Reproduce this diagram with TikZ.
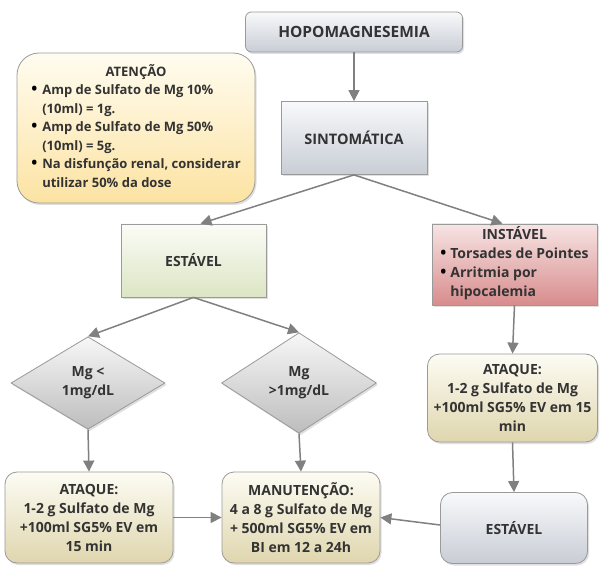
\documentclass[tikz,border=0pt]{standalone}
\usepackage{fontspec}
\setmainfont{Open Sans}
\usetikzlibrary{shapes.geometric,arrows.meta,shadows}

\definecolor{txt}{HTML}{333333}
\definecolor{edge}{HTML}{9A9A9A}
\definecolor{link}{HTML}{808080}
\definecolor{grayTop}{HTML}{F8F9FB}
\definecolor{grayBot}{HTML}{C8CDD5}
\definecolor{noteTop}{HTML}{FFFCF0}
\definecolor{noteBot}{HTML}{FCE3A2}
\definecolor{greenTop}{HTML}{FBFCF6}
\definecolor{greenBot}{HTML}{DCE5C4}
\definecolor{redTop}{HTML}{F7E4E4}
\definecolor{redBot}{HTML}{D88C8C}
\definecolor{beigeTop}{HTML}{FDFCF4}
\definecolor{beigeBot}{HTML}{DFD6AE}
\definecolor{diaTop}{HTML}{F7F7F7}
\definecolor{diaBot}{HTML}{BDBDBD}

% list bullet: a slightly larger black dot
\newcommand{\listdot}{\raisebox{0.2pt}{\color{black}\fontsize{16}{16}\selectfont\textbullet}}

\tikzset{
  box/.style={draw=edge, line width=0.8pt, text=txt, font=\bfseries\fontsize{14}{19}\selectfont,
    align=center, inner sep=2pt,
    drop shadow={shadow xshift=1.5pt, shadow yshift=-2pt, opacity=0.25}},
  graybox/.style={box, top color=grayTop, bottom color=grayBot},
  notebox/.style={box, top color=noteTop, bottom color=noteBot, rounded corners=22pt,
    font=\bfseries\fontsize{13}{18.5}\selectfont},
  greenbox/.style={box, top color=greenTop, bottom color=greenBot},
  redbox/.style={box, top color=redTop, bottom color=redBot},
  dosebox/.style={box, top color=beigeTop, bottom color=beigeBot, rounded corners=12pt},
  choice/.style={box, diamond, top color=diaTop, bottom color=diaBot,
    font=\bfseries\fontsize{14}{19}\selectfont},
  flow/.style={draw=link, line width=1.5pt, -{Triangle[length=11pt,width=11pt]}}
}

\begin{document}
\begin{tikzpicture}[x=1pt,y=-1pt]
\useasboundingbox (0,0) rectangle (603,567);

% top of the chart
\node[graybox, rounded corners=6pt, minimum width=217pt, minimum height=40pt,
      font=\bfseries\fontsize{15.5}{18}\selectfont] (hipo) at (354,32) {HOPOMAGNESEMIA};

\node[notebox, minimum width=238pt, minimum height=150pt] (aten) at (136,128)
  {\begin{tabular}{@{}l@{\hspace{5pt}}l@{}}
   \multicolumn{2}{c}{ATENÇÃO}\\
   \listdot & Amp de Sulfato de Mg 10\%\\
    & (10ml) = 1g.\\
   \listdot & Amp de Sulfato de Mg 50\%\\
    & (10ml) = 5g.\\
   \listdot & Na disfunção renal, considerar\\
    & utilizar 50\% da dose
   \end{tabular}};

\node[graybox, minimum width=146pt, minimum height=73pt,
      font=\bfseries\fontsize{14.5}{18}\selectfont] (sint) at (354,138) {SINTOMÁTICA};

% branches
\node[greenbox, minimum width=145pt, minimum height=73pt] (est) at (193.5,260.5) {ESTÁVEL};

\node[redbox, minimum width=165pt, minimum height=81pt]
  (inst) at (514.5,264.5)
  {\begin{tabular}{@{}l@{\hspace{4pt}}l@{}}
   \multicolumn{2}{c}{INSTÁVEL}\\
   \listdot & Torsades de Pointes\\
   \listdot & Arritmia por\\
    & hipocalemia
   \end{tabular}};

\node[choice, minimum width=154pt, minimum height=80pt] (low) at (88,383) {Mg <\\1mg/dL};
\node[choice, minimum width=155pt, minimum height=80pt] (high) at (299,383) {Mg\\>1mg/dL};

% treatment
\node[dosebox, minimum width=168pt, minimum height=91pt] (atq1) at (89,517.5)
  {ATAQUE:\\1-2 g Sulfato de Mg\\+100ml SG5\% EV em\\15 min};
\node[dosebox, minimum width=158pt, minimum height=91pt] (man) at (301,517.5)
  {MANUTENÇÃO:\\4 a 8 g Sulfato de Mg\\+ 500ml SG5\% EV em\\BI em 12 a 24h};
\node[dosebox, minimum width=170pt, minimum height=88pt] (atq2) at (512.5,398)
  {ATAQUE:\\1-2 g Sulfato de Mg\\+100ml SG5\% EV em 15\\min};
\node[graybox, rounded corners=12pt, minimum width=147pt, minimum height=71pt] (est2) at (514,528) {ESTÁVEL};

% connectors
\draw[flow] (hipo) -- (sint);
\draw[flow] (sint.south) -- ([xshift=7pt]est.north);
\draw[flow] (sint.south) -- ([xshift=-12pt]inst.north);
\draw[flow] (est.south) -- (low.north);
\draw[flow] (est.south) -- (high.north);
\draw[flow] (low.south) -- (atq1.north);
\draw[flow] (high.south) -- (man.north);
\draw[flow] (atq1.east) -- (man.west);
\draw[flow] (inst.south) -- (atq2.north);
\draw[flow] (atq2.south) -- (est2.north);
\draw[flow] ([yshift=3pt]est2.west) -- (man.east);
\end{tikzpicture}
\end{document}
